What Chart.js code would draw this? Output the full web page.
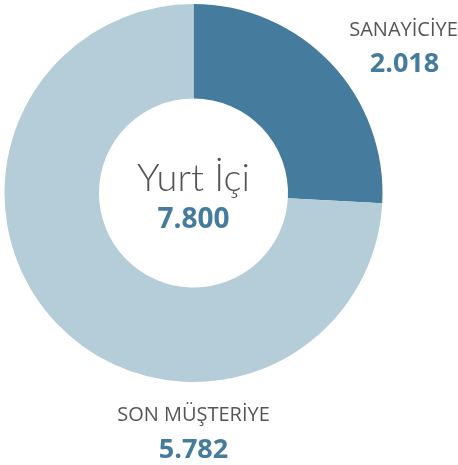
<!DOCTYPE html>
<html lang="tr">
<head>
  <meta charset="UTF-8">
  <title>Yurt İçi</title>
  <style>
    html, body { margin: 0; padding: 0; background: #fff; }
    #wrap { width: 458px; height: 465px; }
  </style>
  <script src="https://cdn.jsdelivr.net/npm/chart.js"></script>
</head>
<body>
<div id="wrap"><canvas id="grafik" width="458" height="465"></canvas></div>
<script>
  const kategoriler = ['SANAYİCİYE', 'SON MÜŞTERİYE'];
  const degerler = [2018, 5782];
  const etiketDegerleri = ['2.018', '5.782'];
  const merkezBaslik = 'Yurt İçi';
  const merkezDeger = '7.800';
  const renkler = ['#457c9e', '#b4cdd9'];

  const yaziRenk = '#555555';
  const degerRenk = '#457c9e';

  // ortadaki ve dışarıdaki yazılar
  const yazilar = {
    id: 'yazilar',
    afterDraw(chart) {
      const c = chart.ctx;
      const arc = chart.getDatasetMeta(0).data[0];
      const cx = arc.x, cy = arc.y, r = arc.outerRadius;
      c.save();
      c.textAlign = 'center';
      c.textBaseline = 'alphabetic';

      c.fillStyle = yaziRenk;
      c.font = '300 38px Lato, "Open Sans", sans-serif';
      c.fillText(merkezBaslik, cx, cy - 2);
      c.fillStyle = degerRenk;
      c.font = 'bold 28px "Open Sans", sans-serif';
      c.fillText(merkezDeger, cx, cy + 35);

      // SANAYİCİYE sağ üstte
      c.fillStyle = yaziRenk;
      c.font = '20px "Open Sans", sans-serif';
      c.fillText(kategoriler[0], cx + r + 21, cy - r + 32);
      c.fillStyle = degerRenk;
      c.font = 'bold 27px "Open Sans", sans-serif';
      c.fillText(etiketDegerleri[0], cx + r + 22, cy - r + 68);

      // SON MÜŞTERİYE altta
      c.fillStyle = yaziRenk;
      c.font = '20px "Open Sans", sans-serif';
      c.fillText(kategoriler[1], cx, cy + r + 39);
      c.fillStyle = degerRenk;
      c.font = 'bold 27px "Open Sans", sans-serif';
      c.fillText(etiketDegerleri[1], cx, cy + r + 76);
      c.restore();
    }
  };

  const ctx = document.getElementById('grafik').getContext('2d');
  new Chart(ctx, {
    type: 'doughnut',
    data: {
      labels: kategoriler,
      datasets: [{
        data: degerler,
        backgroundColor: renkler,
        borderWidth: 0
      }]
    },
    options: {
      responsive: false,
      animation: false,
      cutout: '50%',
      layout: { padding: { left: 4, right: 75, top: 4, bottom: 83 } },
      plugins: {
        legend: { display: false },
        tooltip: { enabled: false }
      }
    },
    plugins: [yazilar]
  });
</script>
</body>
</html>
